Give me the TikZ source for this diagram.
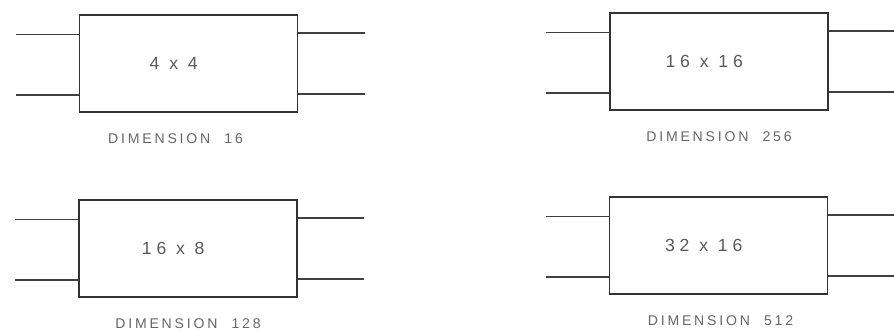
\documentclass[tikz,border=0pt]{standalone}
\usepackage{fontspec}
\newfontfamily\sizefont{Liberation Sans}[LetterSpace=28]
\newfontfamily\dimfont{Liberation Sans}[LetterSpace=20]
\usetikzlibrary{positioning}

\begin{document}
\begin{tikzpicture}[x=0.025cm,y=-0.025cm,
    unit/.style={draw=black!80, line width=1pt, minimum width=5.45cm,
        minimum height=2.42cm, inner sep=0pt},
    wire/.style={black!75, line width=0.9pt},
    size/.style={text=black!65, font=\sizefont\fontsize{12.5}{14}\selectfont},
    dimlabel/.style={text=black!60, font=\dimfont\fontsize{10}{12}\selectfont}]

    % page frame
    \useasboundingbox (0,0) rectangle (894,332);

    % 1. four units: box, size text, dimension label
    \foreach \n/\cx/\cy/\txt/\dimv/\dx in
        {a/188.5/63.5/{4 x 4}/16/-13,
         b/719/61.5/{16 x 16}/256/0,
         c/188/248.5/{16 x 8}/128/0,
         d/718.5/245.5/{32 x 16}/512/2} {
        \node[unit] (\n) at (\cx,\cy) {};
        \node[size] (\n-t) at ([xshift=-0.37cm]\n.center) {\txt};
        \node[dimlabel, below=0.4cm of \n, xshift=\dx*0.025cm] (\n-d)
            {DIMENSION\quad\dimv};

        % 2. input and output lines
        \coordinate (\n-l1) at ([xshift=-1.58cm, yshift=0.73cm]\n.west);
        \coordinate (\n-l2) at ([xshift=-1.58cm, yshift=-0.79cm]\n.west);
        \coordinate (\n-r1) at ([xshift=1.66cm, yshift=0.76cm]\n.east);
        \coordinate (\n-r2) at ([xshift=1.66cm, yshift=-0.76cm]\n.east);
        \draw[wire] (\n-l1) -- (\n-l1 -| \n.west);
        \draw[wire] (\n-l2) -- (\n-l2 -| \n.west);
        \draw[wire] (\n-r1 -| \n.east) -- (\n-r1);
        \draw[wire] (\n-r2 -| \n.east) -- (\n-r2);
    }

\end{tikzpicture}
\end{document}
